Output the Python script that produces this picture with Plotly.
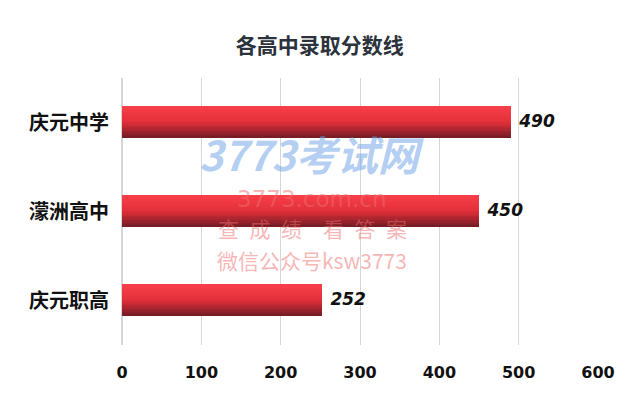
import plotly.graph_objects as go

schools = ["庆元中学", "濛洲高中", "庆元职高"]
scores = [490, 450, 252]
x_ticks = [0, 100, 200, 300, 400, 500, 600]
title_text = "各高中录取分数线"

fig = go.Figure()

# gradient bars made of thin horizontal slices
N = 24
W = 0.35
top = (246, 62, 72)
mid = (226, 48, 58)
bot = (120, 28, 38)
def col(t):
    if t < 0.5:
        a, b, u = top, mid, t / 0.5
    else:
        a, b, u = mid, bot, (t - 0.5) / 0.5
    return "rgb(%d,%d,%d)" % tuple(round(a[k] + (b[k] - a[k]) * u) for k in range(3))

for i in range(N):
    t = i / (N - 1)
    fig.add_trace(go.Bar(
        x=scores, y=schools, orientation="h",
        width=W / N * 1.02, offset=-W / 2 + i * W / N,
        marker=dict(color=col(t), line=dict(width=0)),
        hoverinfo="skip", showlegend=False,
    ))

fig.add_trace(go.Scatter(
    x=scores, y=schools, mode="text",
    text=["\u2002" + str(v) for v in scores],
    textposition="middle right",
    textfont=dict(family="DejaVu Sans", size=17, color="#111111", weight="bold", style="italic"),
    cliponaxis=False, showlegend=False, hoverinfo="skip",
))

# watermark
red = "rgba(238,110,110,0.5)"
fig.add_annotation(x=0.40, y=0.718, xref="paper", yref="paper", xanchor="center", yanchor="middle",
                   text="<i>3773考试网</i>", showarrow=False,
                   font=dict(family="Noto Sans CJK SC", size=41, color="rgba(115,165,230,0.55)", weight="bold"))
fig.add_annotation(x=0.40, y=0.548, xref="paper", yref="paper", xanchor="center", yanchor="middle",
                   text="3773.com.cn", showarrow=False,
                   font=dict(family="DejaVu Sans", size=23, color=red))
fig.add_annotation(x=0.40, y=0.440, xref="paper", yref="paper", xanchor="center", yanchor="middle",
                   text="查\u2002成\u2002绩\u3000看\u2002答\u2002案", showarrow=False,
                   font=dict(family="Noto Sans CJK SC", size=21, color=red))
fig.add_annotation(x=0.40, y=0.318, xref="paper", yref="paper", xanchor="center", yanchor="middle",
                   text="微信公众号ksw3773", showarrow=False,
                   font=dict(family="Noto Sans CJK SC", size=21, color=red))

fig.update_layout(
    width=627, height=398,
    margin=dict(l=122, r=23, t=78, b=53),
    paper_bgcolor="white", plot_bgcolor="white",
    barmode="overlay", bargap=0,
    title=dict(text=title_text, x=0.51, xanchor="center", y=0.885, yanchor="middle",
               font=dict(family="Noto Sans CJK SC", size=21, color="#2b323b", weight="bold")),
    xaxis=dict(range=[0, 600], tickvals=x_ticks, showgrid=True, gridcolor="#d6d6d6", gridwidth=1,
               zeroline=True, zerolinecolor="#d6d6d6", showline=False, ticks="",
               tickfont=dict(family="DejaVu Sans", size=16, color="#111111", weight="bold"),
               ticklabelstandoff=16),
    yaxis=dict(categoryorder="array", categoryarray=schools, autorange="reversed",
               showgrid=False, zeroline=False, showline=False, ticks="",
               tickfont=dict(family="Noto Sans CJK SC", size=20, color="#111111", weight="bold"),
               ticklabelstandoff=12),
)

fig.write_html("out.html")
